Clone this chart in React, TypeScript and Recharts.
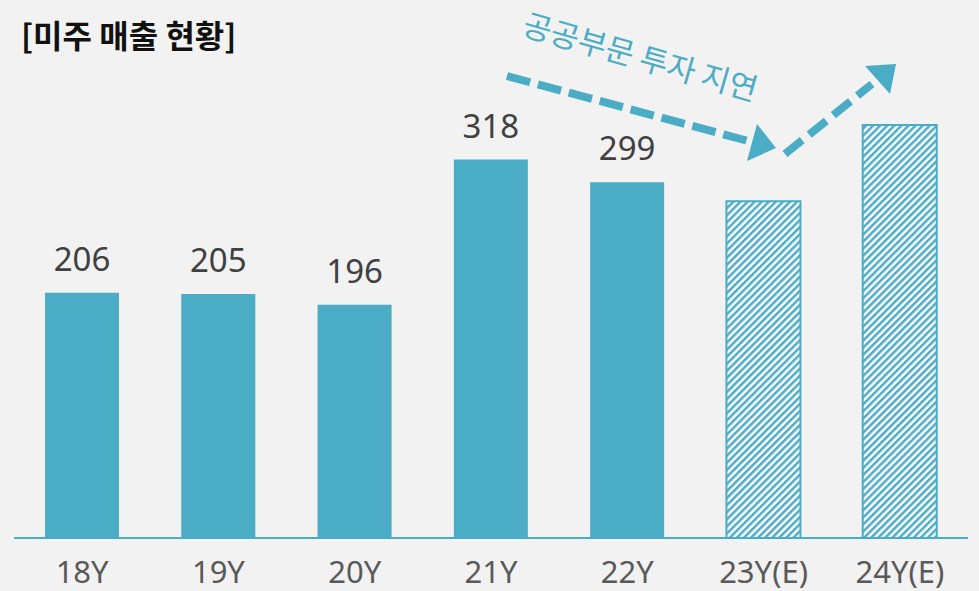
import * as React from 'react';
import { Bar, BarChart, Cell, LabelList, XAxis, YAxis } from 'recharts';

const categories = ['18Y', '19Y', '20Y', '21Y', '22Y', '23Y(E)', '24Y(E)'];
const sales = [206, 205, 196, 318, 299, 283, 347];
const estimated = [false, false, false, false, false, true, true];

const BLUE = '#4bacc6';
const BG = '#f2f2f2';

const data = categories.map((year, i) => ({
  year,
  value: sales[i],
  estimate: estimated[i],
}));

/**
 * 막대 위 값 라벨 (추정치는 표시하지 않음)
 */
function ValueLabel(props: any) {
  const { x, y, width, value, index } = props;
  if (estimated[index]) return null;
  return (
    <text
      x={x + width / 2}
      y={y - 22}
      textAnchor="middle"
      fontFamily="'Noto Sans', sans-serif"
      fontSize={33}
      fill="#404040"
    >
      {value}
    </text>
  );
}

export default function App() {
  return (
    <div
      style={{
        position: 'absolute',
        left: 0,
        top: 0,
        width: 979,
        height: 591,
        background: BG,
        overflow: 'hidden',
      }}
    >
      <div
        style={{
          position: 'absolute',
          left: 21,
          top: 12,
          fontFamily: "'Noto Sans CJK KR', sans-serif",
          fontWeight: 700,
          fontSize: 32,
          color: '#111',
          lineHeight: '44px',
        }}
      >
        [미주 매출 현황]
      </div>

      <BarChart
        width={979}
        height={591}
        data={data}
        margin={{ top: 62, right: 11, bottom: 3, left: 14 }}
      >
        <defs>
          <pattern
            id="hatch"
            width="5"
            height="5"
            patternUnits="userSpaceOnUse"
            patternTransform="rotate(45)"
          >
            <rect width="5" height="5" fill="#ffffff" />
            <line x1="1.25" y1="0" x2="1.25" y2="5" stroke={BLUE} strokeWidth={2.5} />
          </pattern>
        </defs>
        <XAxis
          dataKey="year"
          height={50}
          tickLine={false}
          tickSize={0}
          tickMargin={23}
          axisLine={{ stroke: BLUE, strokeWidth: 2 }}
          tick={{ fill: '#595959', fontSize: 31, fontFamily: "'Noto Sans', sans-serif" }}
          interval={0}
        />
        <YAxis hide domain={[0, 400]} />
        <Bar dataKey="value" barSize={74} isAnimationActive={false}>
          {data.map((d) => (
            <Cell
              key={d.year}
              fill={d.estimate ? 'url(#hatch)' : BLUE}
              stroke={d.estimate ? BLUE : 'none'}
              strokeWidth={d.estimate ? 2 : 0}
            />
          ))}
          <LabelList dataKey="value" content={ValueLabel} />
        </Bar>
      </BarChart>

      {/* 추세 화살표 주석 */}
      <svg
        width={979}
        height={591}
        style={{ position: 'absolute', left: 0, top: 0, pointerEvents: 'none' }}
      >
        <line
          x1={507}
          y1={76}
          x2={752}
          y2={142}
          stroke={BLUE}
          strokeWidth={8}
          strokeDasharray="24 8"
        />
        <polygon points="757,124 776,148 747,161" fill={BLUE} />
        <line
          x1={785}
          y1={154}
          x2={872}
          y2={84}
          stroke={BLUE}
          strokeWidth={8}
          strokeDasharray="22 9"
        />
        <polygon points="865,66 896,64 890,94" fill={BLUE} />
        <text
          x={641}
          y={55}
          transform="rotate(16 641 55)"
          textAnchor="middle"
          dominantBaseline="central"
          fontFamily="'Noto Sans CJK KR', sans-serif"
          fontSize={31}
          fill={BLUE}
        >
          공공부문 투자 지연
        </text>
      </svg>
    </div>
  );
}
